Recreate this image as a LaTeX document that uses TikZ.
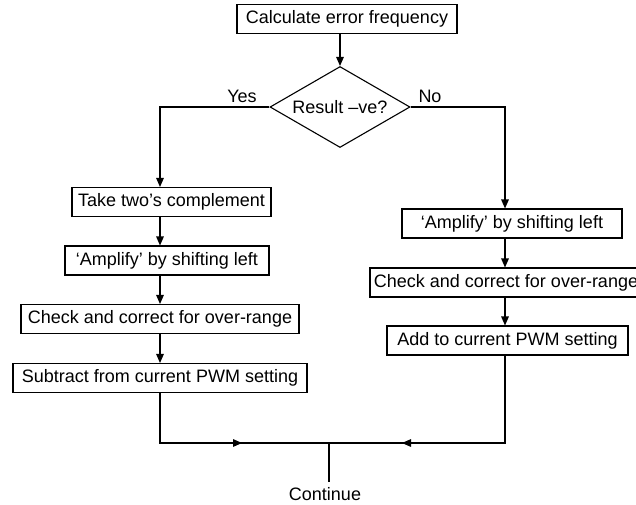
\documentclass[tikz,border=0pt]{standalone}
\usepackage{fontspec}
\setmainfont{Liberation Sans}
\usetikzlibrary{arrows.meta,shapes.geometric}
\begin{document}
\begin{tikzpicture}[x=0.5pt,y=-0.5pt,
  font=\fontsize{9}{11}\selectfont,
  line width=0.55pt,
  box/.style={draw,rectangle,inner sep=0pt,minimum height=14.5pt},
  dec/.style={draw,diamond,aspect=1.73,inner sep=0pt,minimum width=70pt,minimum height=40.5pt},
  arr/.style={-{Triangle[length=4.5pt,width=3.8pt]}},
  lbl/.style={inner sep=1pt}]
\useasboundingbox (0,0) rectangle (636,504);
\node[box,minimum width=110pt] (calc) at (347,19) {Calculate error frequency};
\node[dec] (dec) at (340,107) {Result \textendash ve?};
\node[lbl] (yes) at (242,96) {Yes};
\node[lbl] (no) at (430,96) {No};
\node[box,minimum width=99.5pt] (twos) at (171.5,202) {Take two’s complement};
\node[box,minimum width=102pt] (ampL) at (167,260.5) {‘Amplify’ by shifting left};
\node[box,minimum width=139pt] (chkL) at (160,319) {Check and correct for over-range};
\node[box,minimum width=147pt] (subL) at (160,378) {Subtract from current PWM setting};
\node[box,minimum width=110pt] (ampR) at (512,223.5) {‘Amplify’ by shifting left};
\node[box,minimum width=136pt] (chkR) at (506,282.5) {Check and correct for over-range};
\node[box,minimum width=120.5pt] (addR) at (507.5,340.5) {Add to current PWM setting};
\node[inner sep=0pt] (cont) at (325,494) {Continue};
\coordinate (ycol) at (160,0);
\coordinate (ncol) at (505,0);
\coordinate (lc) at (160,443);
\coordinate (rc) at (505,443);
\coordinate (la) at (242,443);
\coordinate (ra) at (402,443);
\coordinate (merge) at (329,443);
\coordinate (cend) at (329,482);
\draw[arr] (dec.north |- calc.south) -- (dec.north);
\draw[arr] (dec.west) -| (ycol |- twos.north);
\draw[arr] (ycol |- twos.south) -- (ycol |- ampL.north);
\draw[arr] (ycol |- ampL.south) -- (ycol |- chkL.north);
\draw[arr] (ycol |- chkL.south) -- (ycol |- subL.north);
\draw[arr] (dec.east) -| (ncol |- ampR.north);
\draw[arr] (ncol |- ampR.south) -- (ncol |- chkR.north);
\draw[arr] (ncol |- chkR.south) -- (ncol |- addR.north);
\draw (ycol |- subL.south) -- (lc) -- (merge);
\draw (ncol |- addR.south) -- (rc) -- (merge);
\draw[arr] (lc) -- (la);
\draw[arr] (rc) -- (ra);
\draw (merge) -- (cend);
\end{tikzpicture}
\end{document}
